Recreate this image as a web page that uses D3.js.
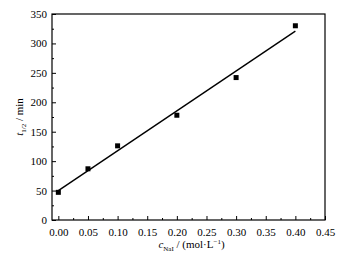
<!DOCTYPE html>
<html>
<head>
<meta charset="utf-8">
<script src="https://cdn.jsdelivr.net/npm/d3@7"></script>
<style>
  body { margin: 0; background: #fff; }
  svg text { font-family: "Liberation Serif", "DejaVu Serif", serif; fill: #000; }
</style>
</head>
<body>
<svg id="chart" width="350" height="259"></svg>
<script>
// measured points: NaI concentration vs half-life
const concNaI = [0, 0.05, 0.10, 0.20, 0.30, 0.40];
const halfLife = [47, 87, 126, 178, 242, 330];

// fitted line endpoints
const fitX = [0, 0.40];
const fitY = [50, 321];

const xTicks = [0, 0.05, 0.10, 0.15, 0.20, 0.25, 0.30, 0.35, 0.40, 0.45];
const yTicks = [0, 50, 100, 150, 200, 250, 300, 350];

const margin = { top: 14, right: 25, bottom: 39, left: 52 };
const width = 350, height = 259;
const innerW = width - margin.left - margin.right;
const innerH = height - margin.top - margin.bottom;

const svg = d3.select('#chart');
const g = svg.append('g').attr('transform', `translate(${margin.left},${margin.top})`);

const x = d3.scaleLinear().domain([-0.0107, 0.45]).range([0, innerW]);
const y = d3.scaleLinear().domain([0, 350]).range([innerH, 0]);

// minor ticks (inward)
const xMinor = d3.range(0.025, 0.45, 0.05);
const yMinor = d3.range(25, 350, 50);

g.append('g')
  .attr('transform', `translate(0,${innerH})`)
  .call(d3.axisBottom(x).tickValues(xMinor).tickSize(-2).tickFormat(''))
  .call(a => a.select('.domain').remove());

g.append('g')
  .call(d3.axisLeft(y).tickValues(yMinor).tickSize(-2).tickFormat(''))
  .call(a => a.select('.domain').remove());

// major ticks
const xAxis = g.append('g')
  .attr('transform', `translate(0,${innerH})`)
  .call(d3.axisBottom(x).tickValues(xTicks).tickSize(-4).tickPadding(8).tickFormat(d3.format('.2f')));
xAxis.select('.domain').remove();
xAxis.selectAll('text').style('font-size', '11px');

const yAxis = g.append('g')
  .call(d3.axisLeft(y).tickValues(yTicks).tickSize(-4).tickPadding(5).tickFormat(d3.format('d')));
yAxis.select('.domain').remove();
yAxis.selectAll('text').style('font-size', '11px');

g.selectAll('.tick line').attr('stroke', '#000').attr('stroke-width', 1);

// frame
g.append('rect')
  .attr('x', 0).attr('y', 0)
  .attr('width', innerW).attr('height', innerH)
  .attr('fill', 'none')
  .attr('stroke', '#000')
  .attr('stroke-width', 1.2);

// fit line
g.append('line')
  .attr('x1', x(fitX[0])).attr('y1', y(fitY[0]))
  .attr('x2', x(fitX[1])).attr('y2', y(fitY[1]))
  .attr('stroke', '#000')
  .attr('stroke-width', 1.4);

// data squares
const s = 5;
g.selectAll('.pt')
  .data(concNaI.map((c, i) => ({ c, t: halfLife[i] })))
  .enter()
  .append('rect')
  .attr('class', 'pt')
  .attr('x', d => x(d.c) - s / 2)
  .attr('y', d => y(d.t) - s / 2)
  .attr('width', s)
  .attr('height', s)
  .attr('fill', '#000');

// axis labels
const xl = svg.append('text')
  .attr('x', margin.left + innerW / 2 + 3)
  .attr('y', 248)
  .attr('text-anchor', 'middle')
  .style('font-size', '11px');
xl.append('tspan').style('font-style', 'italic').text('c');
xl.append('tspan').attr('dy', 3).style('font-size', '7px').text('NaI');
xl.append('tspan').attr('dy', -3).text(' / (mol\u00b7L');
xl.append('tspan').attr('dy', -4).style('font-size', '7px').text('\u22121');
xl.append('tspan').attr('dy', 4).text(')');

const yl = svg.append('text')
  .attr('transform', `translate(23,${margin.top + innerH / 2}) rotate(-90)`)
  .attr('text-anchor', 'middle')
  .style('font-size', '11px');
yl.append('tspan').style('font-style', 'italic').text('t');
yl.append('tspan').attr('dy', 3).style('font-size', '7px').text('1/2');
yl.append('tspan').attr('dy', -3).text(' / min');
</script>
</body>
</html>
